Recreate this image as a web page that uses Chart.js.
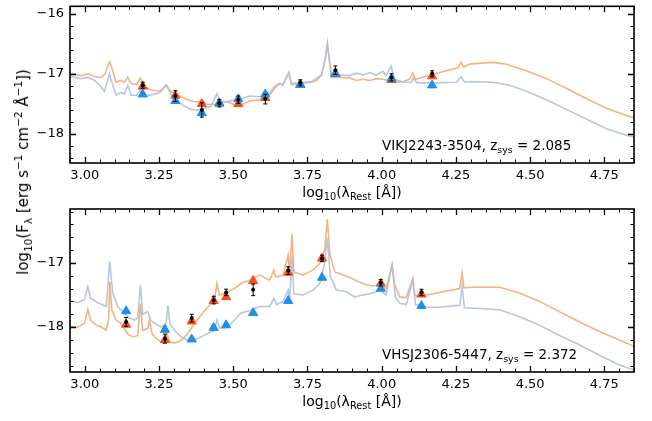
<!DOCTYPE html>
<html>
<head>
<meta charset="utf-8">
<script src="https://cdn.jsdelivr.net/npm/chart.js@4.4.1/dist/chart.umd.min.js"></script>
<style>
  html, body { margin: 0; padding: 0; background: #fff; }
  #wrap { position: relative; width: 652px; height: 421px; overflow: hidden; }
  #wrap canvas { position: absolute; left: 0; top: 0; }
  #ytitle {
    position: absolute; left: 23px; top: 172px;
    transform: translate(-50%, -50%) rotate(-90deg);
    white-space: nowrap; font: 15px 'DejaVu Sans', sans-serif; color: #000;
  }
  #ytitle sub, #ytitle sup { font-size: 70%; line-height: 0; }
</style>
</head>
<body>
<div id="wrap">
  <canvas id="top" width="652" height="421"></canvas>
  <canvas id="bottom" width="652" height="421"></canvas>
  <div id="ytitle">log<sub>10</sub>(F<sub>λ</sub> [erg s<sup>−1</sup> cm<sup>−2</sup> Å<sup>−1</sup>])</div>
</div>
<script>
// ---- shared axis labels ----
const xTicks = [3.0, 3.25, 3.5, 3.75, 4.0, 4.25, 4.5, 4.75];

// ---- VIKJ2243-3504 (top panel) ----
const vikOrangeX = [2.950, 2.988, 3.010, 3.027, 3.055, 3.068, 3.083, 3.091, 3.105, 3.122, 3.133, 3.145, 3.156, 3.173, 3.187, 3.199, 3.223, 3.251, 3.263, 3.274, 3.285, 3.302, 3.324, 3.347, 3.369, 3.392, 3.414, 3.442, 3.470, 3.493, 3.515, 3.556, 3.589, 3.623, 3.640, 3.657, 3.667, 3.687, 3.696, 3.724, 3.763, 3.780, 3.797, 3.811, 3.817, 3.823, 3.831, 3.859, 3.892, 3.915, 3.937, 3.960, 3.982, 4.004, 4.038, 4.072, 4.094, 4.105, 4.113, 4.150, 4.173, 4.218, 4.257, 4.268, 4.276, 4.296, 4.375, 4.420, 4.487, 4.555, 4.622, 4.689, 4.757, 4.824, 4.850];
const vikOrangeY = [-16.99, -17.03, -17.00, -17.04, -17.06, -17.00, -16.80, -16.90, -17.14, -17.11, -17.14, -17.06, -17.16, -17.18, -17.07, -17.22, -17.27, -17.29, -17.25, -17.18, -17.27, -17.33, -17.38, -17.43, -17.46, -17.47, -17.51, -17.50, -17.46, -17.49, -17.54, -17.45, -17.43, -17.35, -17.24, -17.16, -17.19, -16.98, -17.18, -17.16, -17.14, -17.11, -17.03, -16.73, -16.50, -16.73, -17.06, -17.06, -17.07, -17.11, -17.09, -17.11, -17.08, -17.09, -17.13, -17.13, -17.09, -16.99, -17.09, -17.04, -17.01, -16.95, -16.90, -16.81, -16.89, -16.84, -16.81, -16.84, -16.95, -17.08, -17.24, -17.41, -17.57, -17.69, -17.73];
const vikBlueX = [2.950, 2.988, 3.010, 3.033, 3.055, 3.066, 3.083, 3.091, 3.105, 3.122, 3.133, 3.145, 3.156, 3.173, 3.187, 3.199, 3.223, 3.251, 3.274, 3.291, 3.313, 3.336, 3.358, 3.380, 3.403, 3.425, 3.445, 3.459, 3.481, 3.504, 3.526, 3.556, 3.589, 3.623, 3.640, 3.657, 3.667, 3.687, 3.696, 3.724, 3.763, 3.797, 3.810, 3.817, 3.823, 3.831, 3.859, 3.892, 3.915, 3.937, 3.960, 3.982, 4.004, 4.015, 4.032, 4.043, 4.072, 4.100, 4.105, 4.120, 4.173, 4.251, 4.268, 4.279, 4.307, 4.375, 4.431, 4.487, 4.555, 4.622, 4.689, 4.757, 4.824, 4.850];
const vikBlueY = [-17.04, -17.08, -17.06, -17.11, -17.22, -17.29, -17.00, -17.14, -17.35, -17.31, -17.34, -17.19, -17.35, -17.36, -17.27, -17.37, -17.35, -17.32, -17.19, -17.35, -17.46, -17.54, -17.59, -17.60, -17.57, -17.54, -17.33, -17.48, -17.46, -17.43, -17.41, -17.37, -17.38, -17.31, -17.20, -17.16, -17.18, -16.98, -17.16, -17.15, -17.13, -17.02, -16.75, -16.50, -16.75, -17.05, -17.02, -17.03, -16.99, -17.02, -16.98, -17.02, -16.96, -17.03, -16.87, -17.09, -17.14, -17.14, -17.07, -17.15, -17.15, -17.14, -17.05, -17.14, -17.13, -17.14, -17.19, -17.29, -17.43, -17.59, -17.75, -17.91, -18.02, -18.05];
const vikBandX = [3.195, 3.305, 3.394, 3.453, 3.517, 3.608, 3.726, 3.844, 4.033, 4.170];
const vikOrangePhot = [-17.21, -17.36, -17.50, -17.49, -17.50, -17.40, -17.18, -17.00, -17.10, -17.04];
const vikBluePhot = [-17.34, -17.45, -17.65, -17.49, -17.42, -17.34, -17.18, -17.00, -17.08, -17.19];
const vikObs = [-17.19, -17.37, -17.60, -17.49, -17.43, -17.42, -17.15, -16.94, -17.06, -17.00];
const vikErr = [0.05, 0.09, 0.12, 0.06, 0.06, 0.08, 0.05, 0.07, 0.06, 0.05];
const vikYTicks = [-18, -17, -16];

// ---- VHSJ2306-5447 (bottom panel) ----
const vhsOrangeX = [2.950, 2.976, 2.999, 3.010, 3.019, 3.038, 3.055, 3.072, 3.080, 3.084, 3.091, 3.105, 3.122, 3.139, 3.150, 3.167, 3.178, 3.187, 3.195, 3.212, 3.218, 3.226, 3.240, 3.263, 3.277, 3.285, 3.302, 3.324, 3.347, 3.369, 3.392, 3.414, 3.437, 3.445, 3.453, 3.476, 3.504, 3.530, 3.556, 3.589, 3.623, 3.637, 3.643, 3.668, 3.685, 3.690, 3.698, 3.704, 3.735, 3.769, 3.791, 3.808, 3.817, 3.825, 3.842, 3.870, 3.898, 3.920, 3.948, 3.971, 3.993, 4.015, 4.035, 4.044, 4.061, 4.083, 4.105, 4.112, 4.150, 4.195, 4.240, 4.263, 4.271, 4.277, 4.307, 4.397, 4.465, 4.532, 4.599, 4.667, 4.734, 4.801, 4.850];
const vhsOrangeY = [-17.99, -18.00, -17.94, -17.72, -17.89, -17.97, -18.00, -18.05, -17.89, -17.29, -17.73, -17.89, -17.94, -18.07, -18.13, -18.15, -18.13, -17.63, -18.05, -18.02, -17.89, -18.10, -18.18, -18.25, -18.10, -18.23, -18.25, -18.21, -18.10, -17.94, -17.81, -17.69, -17.58, -17.32, -17.50, -17.47, -17.40, -17.31, -17.27, -17.19, -17.27, -17.11, -17.22, -17.19, -16.88, -17.16, -16.55, -17.14, -17.19, -17.11, -17.01, -16.80, -16.32, -16.85, -17.14, -17.19, -17.24, -17.29, -17.34, -17.36, -17.34, -17.40, -17.03, -17.34, -17.53, -17.54, -17.24, -17.51, -17.50, -17.46, -17.42, -17.40, -17.16, -17.39, -17.38, -17.38, -17.47, -17.60, -17.76, -17.92, -18.07, -18.20, -18.30];
const vhsBlueX = [2.950, 2.976, 2.999, 3.010, 3.019, 3.044, 3.072, 3.084, 3.094, 3.111, 3.133, 3.150, 3.167, 3.178, 3.187, 3.195, 3.212, 3.221, 3.235, 3.257, 3.274, 3.280, 3.286, 3.302, 3.324, 3.347, 3.369, 3.392, 3.414, 3.437, 3.445, 3.455, 3.481, 3.504, 3.526, 3.556, 3.589, 3.623, 3.637, 3.647, 3.668, 3.685, 3.690, 3.698, 3.704, 3.735, 3.769, 3.791, 3.808, 3.817, 3.827, 3.847, 3.881, 3.909, 3.937, 3.971, 3.993, 4.015, 4.035, 4.046, 4.061, 4.083, 4.105, 4.114, 4.150, 4.195, 4.240, 4.263, 4.271, 4.279, 4.330, 4.397, 4.465, 4.532, 4.599, 4.667, 4.734, 4.801, 4.850];
const vhsBlueY = [-17.59, -17.62, -17.57, -17.37, -17.55, -17.62, -17.68, -16.98, -17.47, -17.68, -17.79, -17.86, -17.89, -17.86, -17.34, -17.80, -17.76, -17.89, -17.94, -18.00, -17.94, -17.66, -17.94, -18.05, -18.15, -18.21, -18.20, -18.15, -18.10, -18.05, -17.89, -18.02, -18.00, -17.89, -17.78, -17.74, -17.68, -17.68, -17.55, -17.65, -17.60, -17.42, -17.58, -16.90, -17.48, -17.50, -17.42, -17.33, -17.00, -16.61, -17.21, -17.42, -17.45, -17.53, -17.50, -17.47, -17.42, -17.50, -17.03, -17.53, -17.63, -17.65, -17.27, -17.65, -17.69, -17.69, -17.67, -17.66, -17.37, -17.70, -17.71, -17.73, -17.84, -17.97, -18.13, -18.28, -18.44, -18.59, -18.67];
const vhsBandX = [3.139, 3.270, 3.360, 3.434, 3.476, 3.567, 3.685, 3.799, 3.997, 4.134];
const vhsOrangePhot = [-17.96, -18.20, -17.91, -17.59, -17.53, -17.28, -17.15, -16.93, -17.32, -17.49];
const vhsBluePhot = [-17.75, -18.04, -18.19, -18.01, -17.97, -17.78, -17.59, -17.23, -17.40, -17.67];
const vhsObs = [-17.92, -18.18, -17.86, -17.58, -17.46, -17.42, -17.12, -16.93, -17.31, -17.46];
const vhsErr = [0.07, 0.07, 0.06, 0.06, 0.05, 0.09, 0.06, 0.05, 0.05, 0.05];
const vhsYTicks = [-18, -17];

const ORANGE_LINE = 'rgba(244, 160, 95, 0.8)';
const BLUE_LINE = 'rgba(176, 192, 222, 0.9)';
const ORANGE_MARK = '#F2511C';
const BLUE_MARK = '#1E8FE6';
const FONT = "'DejaVu Sans', sans-serif";

const zip = (xs, ys) => xs.map((x, i) => ({ x: x, y: ys[i] }));

// draw text made of [text, 'sub'|'sup'|''] pieces
function drawRich(ctx, parts, x, y, size, align) {
  const widths = parts.map(([t, k]) => {
    ctx.font = (k ? size * 0.7 : size) + 'px ' + FONT;
    return ctx.measureText(t).width;
  });
  const total = widths.reduce((a, b) => a + b, 0);
  let cx = align === 'center' ? x - total / 2 : x;
  ctx.textAlign = 'left';
  parts.forEach(([t, k], i) => {
    ctx.font = (k ? size * 0.7 : size) + 'px ' + FONT;
    const dy = k === 'sub' ? size * 0.22 : k === 'sup' ? -size * 0.4 : 0;
    ctx.fillText(t, cx, y + dy);
    cx += widths[i];
  });
}

const decorPlugin = {
  id: 'decor',
  afterDatasetsDraw(chart) {
    const { ctx, scales: { x, y } } = chart;
    // error bars on observed points
    chart.data.datasets.forEach((ds) => {
      if (!ds.errs) return;
      ctx.save();
      ctx.strokeStyle = '#000';
      ctx.lineWidth = 1;
      ds.data.forEach((p, i) => {
        const px = x.getPixelForValue(p.x);
        const y0 = y.getPixelForValue(p.y - ds.errs[i]);
        const y1 = y.getPixelForValue(p.y + ds.errs[i]);
        ctx.beginPath();
        ctx.moveTo(px, y0); ctx.lineTo(px, y1);
        ctx.moveTo(px - 2, y0); ctx.lineTo(px + 2, y0);
        ctx.moveTo(px - 2, y1); ctx.lineTo(px + 2, y1);
        ctx.stroke();
      });
      ctx.restore();
    });
  },
  afterDraw(chart, args, opts) {
    const { ctx, chartArea: a, scales: { x, y } } = chart;
    ctx.save();
    ctx.strokeStyle = '#000';
    // inward ticks on all four sides
    const xt = (vals, len, w) => {
      ctx.lineWidth = w;
      ctx.beginPath();
      vals.forEach((v) => {
        const px = Math.round(x.getPixelForValue(v)) + 0.5;
        ctx.moveTo(px, a.bottom); ctx.lineTo(px, a.bottom - len);
        ctx.moveTo(px, a.top); ctx.lineTo(px, a.top + len);
      });
      ctx.stroke();
    };
    const yt = (vals, len, w) => {
      ctx.lineWidth = w;
      ctx.beginPath();
      vals.forEach((v) => {
        const py = Math.round(y.getPixelForValue(v)) + 0.5;
        ctx.moveTo(a.left, py); ctx.lineTo(a.left + len, py);
        ctx.moveTo(a.right, py); ctx.lineTo(a.right - len, py);
      });
      ctx.stroke();
    };
    const xMinor = [];
    for (let v = 2.95; v < 4.851; v += 0.05) xMinor.push(+v.toFixed(2));
    const yMinor = [];
    for (let v = Math.ceil(y.min * 5) / 5; v <= y.max; v += 0.2) yMinor.push(+v.toFixed(1));
    xt(xMinor, 3.5, 1);
    yt(yMinor, 3.5, 1);
    xt(xTicks, 6, 1.3);
    yt(opts.yTicks, 6, 1.3);
    // frame
    ctx.lineWidth = 1.6;
    ctx.strokeRect(a.left, a.top, a.right - a.left, a.bottom - a.top);
    // texts
    ctx.fillStyle = '#000';
    ctx.textBaseline = 'alphabetic';
    drawRich(ctx, [['log', ''], ['10', 'sub'], ['(λ', ''], ['Rest', 'sub'], [' [Å])', '']],
      (a.left + a.right) / 2, a.bottom + 34, 14, 'center');
    drawRich(ctx, [[opts.name + ', z', ''], ['sys', 'sub'], [' = ' + opts.z, '']],
      opts.noteX, opts.noteY, 13.5, 'left');
    ctx.restore();
  }
};

function makePanel(id, p) {
  return new Chart(document.getElementById(id), {
    type: 'scatter',
    data: {
      datasets: [
        { label: 'Observed', data: zip(p.bandX, p.obs), errs: p.err, pointStyle: 'circle', pointRadius: 2,
          backgroundColor: '#000', borderColor: '#000', borderWidth: 0, order: 1 },
        { label: 'Model B photometry', data: zip(p.bandX, p.bluePhot), pointStyle: 'triangle', pointRadius: 5.3,
          backgroundColor: BLUE_MARK, borderColor: BLUE_MARK, borderWidth: 1, order: 2 },
        { label: 'Model A photometry', data: zip(p.bandX, p.orangePhot), pointStyle: 'triangle', pointRadius: 5.3,
          backgroundColor: ORANGE_MARK, borderColor: ORANGE_MARK, borderWidth: 1, order: 3 },
        { label: 'Model B', data: zip(p.blueX, p.blueY), showLine: true, pointRadius: 0,
          borderColor: BLUE_LINE, borderWidth: 1.6, order: 4 },
        { label: 'Model A', data: zip(p.orangeX, p.orangeY), showLine: true, pointRadius: 0,
          borderColor: ORANGE_LINE, borderWidth: 1.6, order: 5 },
      ],
    },
    options: {
      responsive: false,
      animation: false,
      devicePixelRatio: 1,
      events: [],
      layout: { padding: p.padding },
      plugins: {
        legend: { display: false },
        tooltip: { enabled: false },
        decor: { yTicks: p.yTicks, name: p.name, z: p.z, noteX: 382, noteY: p.noteY },
      },
      scales: {
        x: {
          type: 'linear', min: 2.95, max: 4.85,
          afterBuildTicks: (s) => { s.ticks = xTicks.map((v) => ({ value: v })); },
          afterFit: (s) => { s.height = 30; s.paddingLeft = 0; s.paddingRight = 0; },
          grid: { display: false, drawTicks: false },
          border: { display: false },
          ticks: { color: '#000', font: { family: FONT, size: 13 }, padding: 5, maxRotation: 0, autoSkip: false,
            callback: (v) => Number(v).toFixed(2) },
        },
        y: {
          type: 'linear', min: p.yMin, max: p.yMax,
          afterBuildTicks: (s) => { s.ticks = p.yTicks.map((v) => ({ value: v })); },
          afterFit: (s) => { s.width = 70; s.paddingTop = 0; s.paddingBottom = 0; },
          grid: { display: false, drawTicks: false },
          border: { display: false },
          ticks: { color: '#000', font: { family: FONT, size: 13 }, padding: 6,
            callback: (v) => '\u2212' + Math.abs(v) },
        },
      },
    },
    plugins: [decorPlugin],
  });
}

makePanel('top', {
  orangeX: vikOrangeX, orangeY: vikOrangeY, blueX: vikBlueX, blueY: vikBlueY,
  bandX: vikBandX, orangePhot: vikOrangePhot, bluePhot: vikBluePhot, obs: vikObs, err: vikErr,
  yTicks: vikYTicks, yMin: -18.48, yMax: -15.88,
  padding: { top: 3, right: 18, bottom: 228, left: 0 },
  name: 'VIKJ2243-3504', z: '2.085', noteY: 150,
});

makePanel('bottom', {
  orangeX: vhsOrangeX, orangeY: vhsOrangeY, blueX: vhsBlueX, blueY: vhsBlueY,
  bandX: vhsBandX, orangePhot: vhsOrangePhot, bluePhot: vhsBluePhot, obs: vhsObs, err: vhsErr,
  yTicks: vhsYTicks, yMin: -18.70, yMax: -16.16,
  padding: { top: 209, right: 18, bottom: 19, left: 0 },
  name: 'VHSJ2306-5447', z: '2.372', noteY: 359,
});
</script>
</body>
</html>
